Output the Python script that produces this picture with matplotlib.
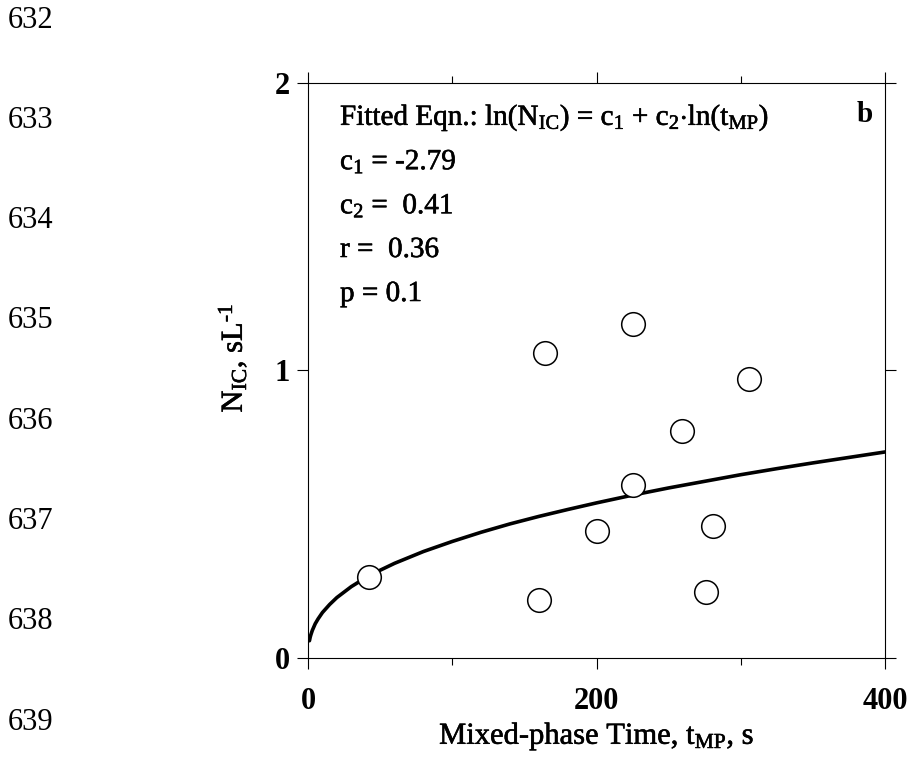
import matplotlib
matplotlib.use('Agg')
import matplotlib.pyplot as plt
import matplotlib.patheffects as pe
from matplotlib.ticker import MultipleLocator

plt.rcParams['font.family'] = ['Liberation Serif', 'DejaVu Serif']
plt.rcParams['mathtext.fontset'] = 'custom'
plt.rcParams['mathtext.rm'] = 'Liberation Serif'
plt.rcParams['mathtext.it'] = 'Liberation Serif:italic'

# observed points (mixed-phase time, ice crystal number)
t_mp = [42, 164, 160, 200, 225, 225, 259, 276, 281, 306]
n_ic = [0.28, 1.06, 0.20, 0.44, 1.16, 0.60, 0.79, 0.23, 0.46, 0.97]

# fitted curve
fit_t = [1, 1.5, 2, 3, 5, 7, 10, 15, 20, 30, 40, 50, 60, 80, 100, 120, 140,
         160, 180, 200, 225, 250, 275, 300, 325, 350, 375, 400]
fit_n = [0.06, 0.072, 0.081, 0.096, 0.119, 0.136, 0.158, 0.186, 0.21, 0.248,
         0.279, 0.305, 0.329, 0.37, 0.405, 0.437, 0.466, 0.492, 0.516, 0.539,
         0.566, 0.591, 0.614, 0.637, 0.658, 0.678, 0.697, 0.716]

line_numbers = ['632', '633', '634', '635', '636', '637', '638', '639']

annot = [r'Fitted Eqn.: ln(N$_{\rm IC}$) = c$_1$ + c$_2$$\cdot$ln(t$_{\rm MP}$)',
         r'c$_1$ = -2.79',
         r'c$_2$ =  0.41',
         r'r =  0.36',
         r'p = 0.1']

heavy = [pe.withStroke(linewidth=0.4, foreground='black')]

fig = plt.figure(figsize=(9.1, 7.57), dpi=100)
ax = fig.add_axes([308 / 910, 1 - 658 / 757, 577 / 910, 575.5 / 757])

ax.plot(fit_t, fit_n, color='black', lw=2.6, solid_capstyle='round',
        solid_joinstyle='round')
ax.plot(t_mp, n_ic, 'o', ms=17, mfc='white', mec='black', mew=1.1, ls='none')

ax.set_xlim(0, 400)
ax.set_ylim(0, 2)
ax.xaxis.set_major_locator(MultipleLocator(200))
ax.xaxis.set_minor_locator(MultipleLocator(100))
ax.yaxis.set_major_locator(MultipleLocator(1))
ax.tick_params(which='both', direction='out', top=True, right=True,
               width=0.8, labelsize=22)
ax.tick_params(which='major', length=8)
ax.tick_params(axis='x', which='major', pad=13)
ax.tick_params(axis='y', which='major', pad=5)
ax.tick_params(which='minor', length=5)
for lab in ax.get_xticklabels() + ax.get_yticklabels():
    lab.set_fontweight('bold')
for s in ax.spines.values():
    s.set_linewidth(0.8)

ax.set_xlabel(r'Mixed-phase Time, t$_{\rm MP}$, s', fontsize=22, labelpad=2,
              path_effects=heavy)
ax.set_ylabel('N$_{\\rm IC}$, sL$^{\u2010\\rm 1}$', fontsize=22,
              path_effects=heavy)
ax.yaxis.set_label_coords(-0.102, 0.521)

for i, s in enumerate(annot):
    fig.text(340 / 910, 1 - (118 + 44 * i) / 757, s, fontsize=21,
             ha='left', va='center', path_effects=heavy)
fig.text(865 / 910, 1 - 115 / 757, 'b', fontsize=21, fontweight='bold',
         ha='center', va='center')

for i, s in enumerate(line_numbers):
    fig.text(8 / 910, 1 - (20 + 100.3 * i) / 757, s, fontsize=22,
             ha='left', va='center')

fig.savefig('out.png', dpi=100)
